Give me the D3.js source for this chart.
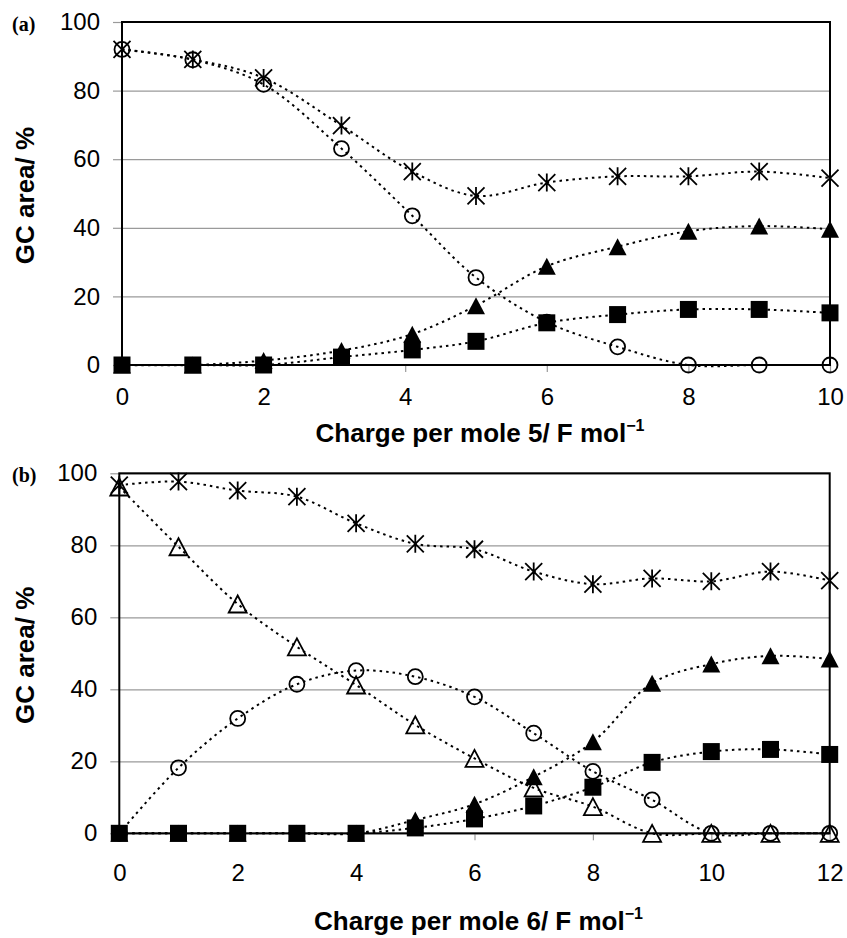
<!DOCTYPE html>
<html>
<head>
<meta charset="utf-8">
<script src="https://cdn.jsdelivr.net/npm/d3@7"></script>
<style>
body { margin: 0; background: #fff; }
svg { display: block; font-family: "Liberation Sans", Arial, sans-serif; }
</style>
</head>
<body>
<div id="chart"></div>
<script>
// panel (a) - charge per mole 5
var xA = [0, 1, 2, 3.1, 4.1, 5, 6, 7, 8, 9, 10];
var starA = [92, 89.1, 83.7, 69.8, 56.4, 49.3, 53.2, 55, 55, 56.4, 54.5];
var circleA = [92, 89, 81.8, 63.1, 43.5, 25.5, 12.5, 5.3, 0, 0, 0];
var triFillA = [0, 0, 1.3, 4.2, 9, 17.3, 28.8, 34.5, 39, 40.5, 39.6];
var squareA = [0, 0, 0, 2.3, 4.4, 6.9, 12.3, 14.7, 16.2, 16.2, 15.2];
var xTicksA = [0, 2, 4, 6, 8, 10];

// panel (b) - charge per mole 6
var xB = [0, 1, 2, 3, 4, 5, 6, 7, 8, 9, 10, 11, 12];
var starB = [96.7, 97.7, 95.2, 93.5, 86.1, 80.4, 78.9, 72.7, 69.2, 70.8, 70, 72.7, 70.2];
var triOpenB = [96.2, 79.6, 63.7, 51.8, 41.2, 30.1, 20.8, 12.6, 7.4, 0, 0, 0, 0];
var circleB = [0, 18.2, 31.9, 41.4, 45.2, 43.5, 37.9, 27.8, 17.2, 9.3, 0, 0, 0];
var triFillB = [0, 0, 0, 0, 0, 3.7, 8.1, 15.7, 25.4, 41.7, 47, 49.3, 48.4];
var squareB = [0, 0, 0, 0, 0, 1.5, 4, 7.6, 12.8, 19.7, 22.7, 23.3, 21.9];
var xTicksB = [0, 2, 4, 6, 8, 10, 12];

var yTicks = [0, 20, 40, 60, 80, 100];

var svg = d3.select("#chart").append("svg")
    .attr("width", 847)
    .attr("height", 938);

// marker shapes, drawn around (0,0)
function markerPath(type) {
    if (type == "triangle" || type == "triOpen") return "M0,-8.5L9,8.5L-9,8.5Z";
    if (type == "square") return "M-8.5,-8.5H8.5V8.5H-8.5Z";
    if (type == "star") return "M0,-9V9M-8.5,-8.5L8.5,8.5M-8.5,8.5L8.5,-8.5";
    return null;
}

function drawPanel(p) {
    var g = svg.append("g");
    var w = p.right - p.left, h = p.bottom - p.top;

    var x = d3.scaleLinear().domain(p.xDomain).range([p.left, p.right]);
    var y = d3.scaleLinear().domain([0, 100]).range([p.bottom, p.top]);

    // gridlines
    g.append("g")
        .attr("transform", `translate(${p.left},0)`)
        .call(d3.axisLeft(y).tickValues(yTicks).tickSize(-w).tickFormat(""))
        .call(a => a.select(".domain").remove())
        .selectAll("line").attr("stroke", "#9a9a9a").attr("stroke-width", 1.2);

    // y ticks + labels
    var ya = g.append("g")
        .attr("transform", `translate(${p.left},0)`)
        .call(d3.axisLeft(y).tickValues(yTicks).tickSize(9).tickPadding(13));
    ya.select(".domain").remove();
    ya.selectAll("line").attr("stroke", "#9a9a9a").attr("stroke-width", 1.2);
    ya.selectAll("text").attr("font-size", 24).attr("fill", "#000")
        .attr("font-family", "Liberation Sans, Arial, sans-serif");

    // x ticks + labels
    var xa = g.append("g")
        .attr("transform", `translate(0,${p.bottom})`)
        .call(d3.axisBottom(x).tickValues(p.xTicks).tickSize(7).tickPadding(p.xPad));
    xa.select(".domain").remove();
    xa.selectAll("line").attr("stroke", "#9a9a9a").attr("stroke-width", 1.2);
    xa.selectAll("text").attr("font-size", 24).attr("fill", "#000")
        .attr("font-family", "Liberation Sans, Arial, sans-serif");

    // frame
    g.append("rect")
        .attr("x", p.left).attr("y", p.top)
        .attr("width", w).attr("height", h)
        .attr("fill", "none").attr("stroke", "#000").attr("stroke-width", 2);

    // series lines
    var line = d3.line()
        .x((d, i) => x(p.xs[i]))
        .y(d => y(d))
        .curve(d3.curveCatmullRom.alpha(0.5));

    p.series.forEach(function(s) {
        g.append("path")
            .attr("d", line(s.values))
            .attr("fill", "none")
            .attr("stroke", "#000")
            .attr("stroke-width", 2)
            .attr("stroke-dasharray", "2.5,4");
    });

    // markers
    p.series.forEach(function(s) {
        var m = g.append("g").selectAll("g")
            .data(s.values)
            .enter()
            .append("g")
            .attr("transform", (d, i) => `translate(${x(p.xs[i])},${y(d)})`);
        if (s.type == "circle") {
            m.append("circle").attr("r", 7.5)
                .attr("fill", "none").attr("stroke", "#000").attr("stroke-width", 1.8);
        } else if (s.type == "star") {
            m.append("path").attr("d", markerPath("star"))
                .attr("fill", "none").attr("stroke", "#000").attr("stroke-width", 1.8);
        } else if (s.type == "triOpen") {
            m.append("path").attr("d", markerPath("triOpen"))
                .attr("fill", "none").attr("stroke", "#000").attr("stroke-width", 1.8);
        } else {
            m.append("path").attr("d", markerPath(s.type)).attr("fill", "#000");
        }
    });

    // panel letter
    g.append("text")
        .attr("x", 12).attr("y", p.top + p.letterDy)
        .attr("font-family", "Liberation Serif, Times New Roman, serif")
        .attr("font-weight", "bold")
        .attr("font-size", 20)
        .text(p.letter);

    // y title
    g.append("text")
        .attr("transform", `translate(34,${(p.top + p.bottom) / 2 + 2}) rotate(-90)`)
        .attr("text-anchor", "middle")
        .attr("font-weight", "bold")
        .attr("font-size", 26)
        .text("GC area/ %");

    // x title
    var t = g.append("text")
        .attr("x", (p.left + p.right) / 2 + 4)
        .attr("y", p.titleY)
        .attr("text-anchor", "middle")
        .attr("font-weight", "bold")
        .attr("font-size", 26);
    t.append("tspan").text(p.xTitle);
    t.append("tspan").attr("font-size", 16).attr("dy", -11).text("\u22121");
}

drawPanel({
    letter: "(a)", letterDy: 9,
    left: 122, right: 830, top: 22, bottom: 365,
    xDomain: [0, 10], xTicks: xTicksA, xPad: 16,
    xs: xA,
    titleY: 442,
    xTitle: "Charge per mole 5/ F mol",
    series: [
        { type: "star", values: starA },
        { type: "circle", values: circleA },
        { type: "triangle", values: triFillA },
        { type: "square", values: squareA }
    ]
});

drawPanel({
    letter: "(b)", letterDy: 9,
    left: 119.3, right: 829.7, top: 473.3, bottom: 833.3,
    xDomain: [0, 12], xTicks: xTicksB, xPad: 24,
    xs: xB,
    titleY: 930,
    xTitle: "Charge per mole 6/ F mol",
    series: [
        { type: "star", values: starB },
        { type: "triOpen", values: triOpenB },
        { type: "circle", values: circleB },
        { type: "triangle", values: triFillB },
        { type: "square", values: squareB }
    ]
});
</script>
</body>
</html>
